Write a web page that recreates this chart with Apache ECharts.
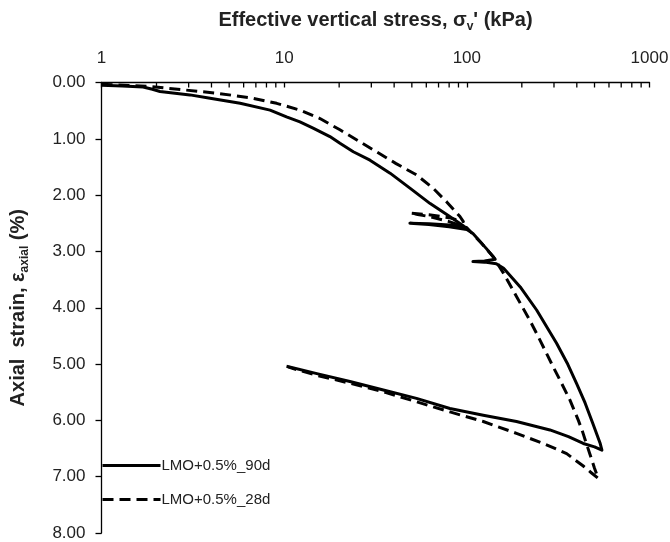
<!DOCTYPE html>
<html>
<head>
<meta charset="utf-8">
<script src="https://cdn.jsdelivr.net/npm/echarts@6.0.0/dist/echarts.min.js"></script>
<style>
  html, body { margin: 0; padding: 0; background: #fff; }
  #chart { width: 670px; height: 542px; }
</style>
</head>
<body>
<div id="chart"></div>
<script>
// LMO+0.5%_90d (solid) - loading, small unload/reload loops, then full unloading
let stress90 = [1.0, 1.3, 1.69, 1.9, 2.09, 3.05, 3.93, 5.74, 8.37, 10.3, 12.2, 14.4, 17.8, 20.2, 23.9, 29.5, 38, 49, 63, 78, 96,
  80, 62, 48.8, 62, 80, 100, 108, 128, 143, 125, 108, 125, 145, 159, 196, 241, 310, 354, 398, 444, 489, 536, 549,
  500, 434, 360, 285, 187, 123, 80.8, 53, 34.9, 22.9, 15.1, 10.3];
let strain90 = [0.05, 0.06, 0.08, 0.12, 0.16, 0.22, 0.28, 0.37, 0.49, 0.61, 0.70, 0.81, 0.96, 1.08, 1.23, 1.38, 1.61, 1.88, 2.15, 2.35, 2.55,
  2.53, 2.51, 2.50, 2.52, 2.56, 2.61, 2.68, 2.95, 3.14, 3.17, 3.18, 3.19, 3.22, 3.30, 3.63, 4.04, 4.63, 4.98, 5.34, 5.69, 6.05, 6.40, 6.53,
  6.47, 6.41, 6.29, 6.17, 6.02, 5.91, 5.79, 5.61, 5.46, 5.31, 5.17, 5.04];

// LMO+0.5%_28d (dashed)
let stress28 = [1.0, 1.84, 2.8, 4.27, 6.5, 9.1, 12.2, 15.7, 20.2, 25, 32, 41, 53, 65.5, 77.6, 91.7, 95.7,
  80, 62, 49, 62, 80, 100, 120, 140, 159, 187, 221, 251, 297, 323, 367, 408, 430, 450, 472, 500, 524,
  480, 434, 390, 352, 262, 187, 123, 80.8, 53, 34.9, 22.9, 15.1, 11.2, 10.5];
let strain28 = [0.03, 0.07, 0.13, 0.19, 0.27, 0.37, 0.49, 0.64, 0.84, 1.02, 1.23, 1.44, 1.64, 1.88, 2.12, 2.38, 2.47,
  2.40, 2.35, 2.32, 2.38, 2.47, 2.58, 2.85, 3.10, 3.39, 3.80, 4.22, 4.57, 5.05, 5.28, 5.64, 6.00, 6.20, 6.40, 6.60, 6.85, 7.03,
  6.93, 6.81, 6.70, 6.59, 6.41, 6.23, 6.02, 5.85, 5.67, 5.49, 5.34, 5.20, 5.08, 5.05];

let seriesNames = ['LMO+0.5%_90d', 'LMO+0.5%_28d'];

// log axis minor tick positions (2..9 of every decade)
let minorTickVals = [2, 3, 4, 5, 6, 7, 8, 9, 20, 30, 40, 50, 60, 70, 80, 90, 200, 300, 400, 500, 600, 700, 800, 900];

let toPairs = (xs, ys) => xs.map((x, i) => [x, ys[i]]);

let chart = echarts.init(document.getElementById('chart'));

let font = 'Liberation Sans, Arial, sans-serif';
let txt = '#222';

chart.setOption({
  backgroundColor: '#fff',
  animation: false,
  grid: {
    left: 101.5,
    right: 20.5,
    top: 82.5,
    bottom: 9,
    outerBoundsMode: 'none',
    containLabel: false
  },
  legend: {
    data: seriesNames,
    orient: 'vertical',
    left: 96,
    top: 453,
    itemWidth: 58,
    itemHeight: 14,
    itemGap: 19,
    itemStyle: { opacity: 0 },
    lineStyle: { width: 3 },
    textStyle: { fontFamily: font, fontSize: 15, color: txt, padding: [0, 0, 0, -4] }
  },
  xAxis: {
    type: 'log',
    logBase: 10,
    min: 1,
    max: 1000,
    position: 'top',
    name: '{b|Effective vertical stress, σ}{s|v}{b|\' (kPa)}',
    nameLocation: 'middle',
    nameGap: 50,
    nameTextStyle: {
      rich: {
        b: { fontFamily: font, fontSize: 20, fontWeight: 'bold', color: txt },
        s: { fontFamily: font, fontSize: 12, fontWeight: 'bold', color: txt, padding: [12, 0, 0, 0] }
      }
    },
    axisLine: { show: true, onZero: false, lineStyle: { color: '#000', width: 1.3 } },
    axisTick: { show: true, inside: true, length: 5, lineStyle: { color: '#000', width: 1.3 } },
    axisLabel: { fontFamily: font, fontSize: 17, color: txt, margin: 16, formatter: v => String(v) },
    splitLine: { show: false }
  },
  yAxis: {
    type: 'value',
    inverse: true,
    min: 0,
    max: 8,
    interval: 1,
    name: '{b|Axial  strain, ε}{s|axial}{b| (%)}',
    nameLocation: 'middle',
    nameGap: 71,
    nameTextStyle: {
      rich: {
        b: { fontFamily: font, fontSize: 20, fontWeight: 'bold', color: txt },
        s: { fontFamily: font, fontSize: 12, fontWeight: 'bold', color: txt, padding: [12, 0, 0, 0] }
      }
    },
    axisLine: { show: true, lineStyle: { color: '#000', width: 1.3 } },
    axisTick: { show: true, inside: false, length: 6, lineStyle: { color: '#000', width: 1.3 } },
    axisLabel: {
      fontFamily: font, fontSize: 17, color: txt, margin: 16,
      formatter: v => v.toFixed(2)
    },
    splitLine: { show: false }
  },
  series: [
    {
      name: seriesNames[0],
      type: 'line',
      data: toPairs(stress90, strain90),
      showSymbol: false,
      symbol: 'none',
      lineStyle: { color: '#000', width: 3, type: 'solid', join: 'round' },
      itemStyle: { color: '#000' },
      z: 3
    },
    {
      name: seriesNames[1],
      type: 'line',
      data: toPairs(stress28, strain28),
      showSymbol: false,
      symbol: 'none',
      lineStyle: { color: '#000', width: 3, type: [11, 6], join: 'round' },
      itemStyle: { color: '#000' },
      z: 2
    },
    {
      // minor ticks of the log axis
      type: 'custom',
      silent: true,
      data: minorTickVals.map(v => [v, 0]),
      renderItem: (params, api) => {
        let p = api.coord([api.value(0), 0]);
        return {
          type: 'line',
          shape: { x1: p[0], y1: p[1], x2: p[0], y2: p[1] + 5 },
          style: { stroke: '#000', lineWidth: 1.3 }
        };
      },
      z: 5
    }
  ]
});
</script>
</body>
</html>
